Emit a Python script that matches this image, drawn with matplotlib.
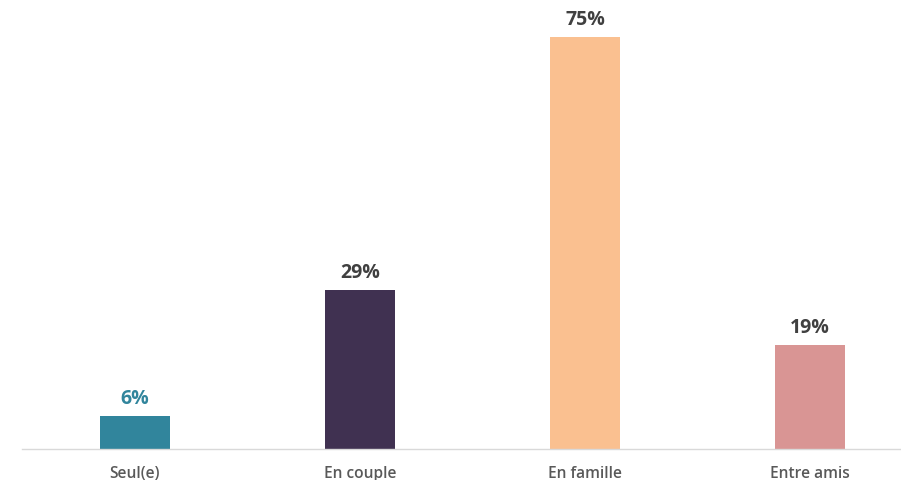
import matplotlib
matplotlib.use("Agg")
import matplotlib.pyplot as plt

categories = ["Seul(e)", "En couple", "En famille", "Entre amis"]
values = [6, 29, 75, 19]
bar_colors = ["#31859C", "#403151", "#FAC090", "#D99594"]
label_colors = ["#31859C", "#404040", "#404040", "#404040"]

plt.rcParams['font.family'] = ['Open Sans', 'DejaVu Sans']

fig = plt.figure(figsize=(9.01, 4.80), dpi=100)
ax = fig.add_axes([22.5 / 901, 31 / 480, (900 - 22.5) / 901, 439.4 / 480])

x = range(len(categories))
ax.bar(x, values, width=70 / 225, color=bar_colors)

for i, v in enumerate(values):
    ax.text(i, v + 1.3, f"{v}%", ha="center", va="bottom",
            fontsize=14, fontweight="bold", color=label_colors[i])

ax.set_xlim(-0.5, (900 - 135) / 225)
ax.set_ylim(0, 80)
ax.set_xticks(list(x))
ax.set_xticklabels(categories, fontsize=11.2, fontweight="semibold", color="#595959")
ax.tick_params(axis="x", length=0, pad=12)
ax.set_yticks([])
for s in ["top", "left", "right"]:
    ax.spines[s].set_visible(False)
ax.spines["bottom"].set_color("#D9D9D9")
ax.spines["bottom"].set_linewidth(1)

fig.savefig("out.png", dpi=100)
